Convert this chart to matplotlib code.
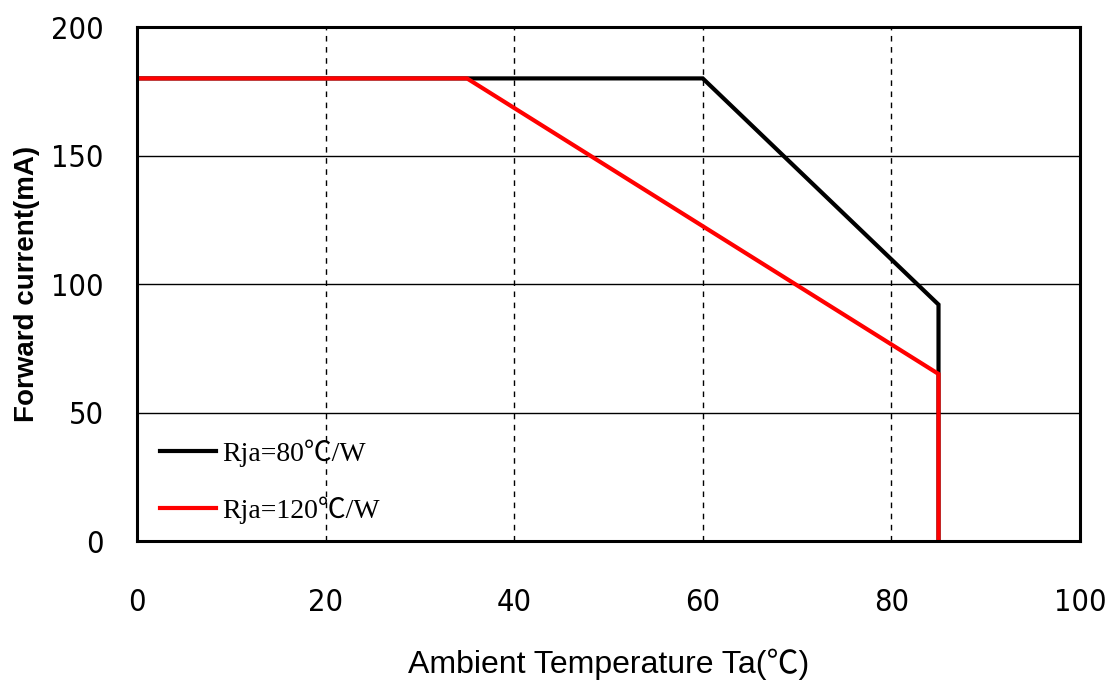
import matplotlib
matplotlib.use("Agg")
import matplotlib.pyplot as plt

# derating curves
temp_80 = [0, 60, 85, 85]
curr_80 = [180, 180, 92, 0]
temp_120 = [0, 35, 85, 85]
curr_120 = [180, 180, 65, 0]

x_ticks = [0, 20, 40, 60, 80, 100]
y_ticks = [0, 50, 100, 150, 200]

fig = plt.figure(figsize=(11.08, 6.82), dpi=100)
ax = fig.add_axes([0.1236, 0.2067, 0.8511, 0.7537])

ax.plot(temp_80, curr_80, color="black", lw=3, label="Rja=80℃/W",
        solid_joinstyle="miter")
ax.plot(temp_120, curr_120, color="#ff0000", lw=3, label="Rja=120℃/W",
        solid_joinstyle="miter")

ax.set_xlim(0, 100)
ax.set_ylim(0, 200)
ax.set_xticks(x_ticks)
ax.set_yticks(y_ticks)

# grid: dashed verticals, solid horizontals
for x in x_ticks[1:-1]:
    ax.axvline(x, color="black", lw=1, ls=(0, (4, 4)), zorder=0)
for y in y_ticks[1:-1]:
    ax.axhline(y, color="black", lw=1, zorder=0)

for s in ax.spines.values():
    s.set_linewidth(2.2)

for lab in ax.get_xticklabels() + ax.get_yticklabels():
    lab.set_family("DejaVu Sans")
    lab.set_fontstretch("condensed")
    lab.set_fontsize(22)
ax.tick_params(length=0)
ax.tick_params(axis="x", pad=34)
ax.tick_params(axis="y", pad=24)

ax.set_xlabel("Ambient Temperature Ta(℃)", fontsize=23,
              family=["Liberation Sans", "Noto Sans CJK SC"])
ax.xaxis.set_label_coords(0.5, -0.21)
ax.set_ylabel("Forward current(mA)", fontsize=20, fontweight="bold",
              family=["Liberation Sans", "DejaVu Sans"])
ax.yaxis.set_label_coords(-0.103, 0.5)

leg = ax.legend(loc="lower left", frameon=False, handlelength=2.0,
                handletextpad=0.25, labelspacing=1.05,
                bbox_to_anchor=(-0.002, -0.015),
                prop={"family": ["Liberation Serif", "Noto Sans CJK SC"],
                      "size": 20})

fig.savefig("out.png", dpi=100)
